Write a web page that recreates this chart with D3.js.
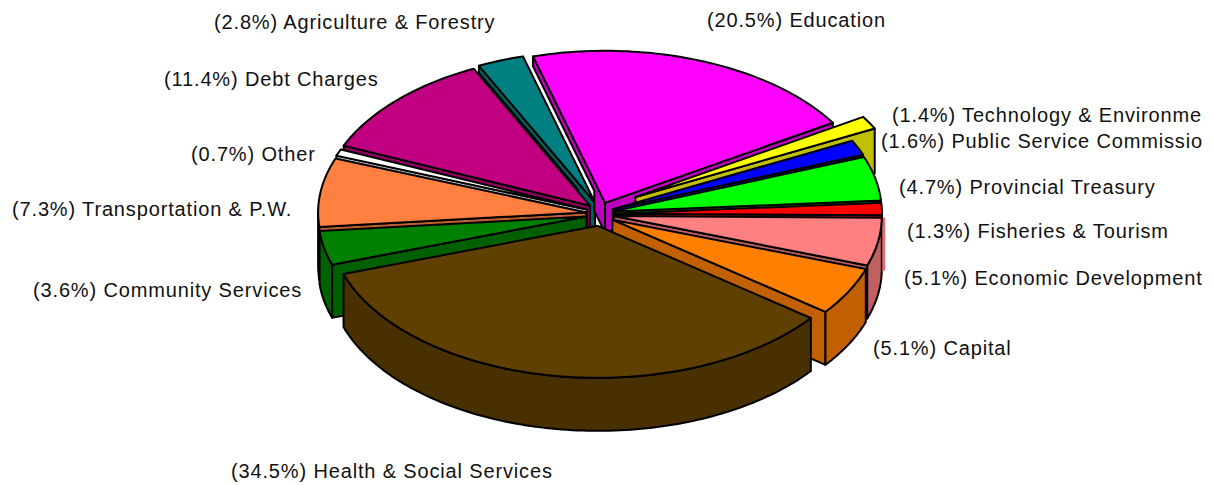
<!DOCTYPE html>
<html>
<head>
<meta charset="utf-8">
<script src="https://cdn.jsdelivr.net/npm/d3@7/dist/d3.min.js"></script>
<style>
  html, body { margin: 0; padding: 0; background: #fff; }
  svg { display: block; }
  text { font-family: "Liberation Sans", Arial, sans-serif; font-size: 20px; letter-spacing: 0.85px; fill: #111; }
</style>
</head>
<body>
<svg id="chart" width="1214" height="485"></svg>
<script>
// Budget shares, clockwise starting with Education.
const sectors = ["Education", "Technology & Environment", "Public Service Commission", "Provincial Treasury",
  "Fisheries & Tourism", "Economic Development", "Capital", "Health & Social Services", "Community Services",
  "Transportation & P.W.", "Other", "Debt Charges", "Agriculture & Forestry"];
const shares = [20.5, 1.4, 1.6, 4.7, 1.3, 5.1, 5.1, 34.5, 3.6, 7.3, 0.7, 11.4, 2.8];
const topColors = ["#ff00ff", "#ffff00", "#0000ff", "#00ff00", "#ff0000", "#ff8080", "#ff8000", "#604000",
  "#008000", "#ff8040", "#ffffff", "#c00080", "#008080"];
const wallColors = ["#c000c0", "#c0c000", "#0000c0", "#00c000", "#c00000", "#c06060", "#c06000", "#483000",
  "#006000", "#c06030", "#c0c0c0", "#900060", "#006060"];

// Label placement, in the same order as the sectors.
const labelX = [707, 892, 881, 899, 907, 904, 873, 231, 33, 12, 191, 164, 214];
const labelY = [27, 122, 148, 194, 238, 285, 355, 478, 297, 216, 161, 86, 29];

// Pie geometry.
const centre = { x: 600, y: 214 };
const radius = { x: 268, y: 152 };
const explode = { x: 14, y: 12 };
const extraExplode = { "Technology & Environment": 2.9 };
const depth = 53;
const shallowDepth = { Education: 10, "Agriculture & Forestry": 7, "Technology & Environment": 45 };
const firstAngle = -15.6 * Math.PI / 180;

const svg = d3.select("#chart");
const defs = svg.append("defs");
defs.append("clipPath").attr("id", "page").append("rect")
  .attr("x", 0).attr("y", 0).attr("width", 1203).attr("height", 485);

const pie = d3.pie().sort(null).value(i => shares[i])
  .startAngle(firstAngle).endAngle(firstAngle + 2 * Math.PI);
const slices = pie(d3.range(shares.length));

const xUnit = d3.scaleLinear().domain([-1, 1]).range([centre.x - radius.x, centre.x + radius.x]);
const yUnit = d3.scaleLinear().domain([-1, 1]).range([centre.y - radius.y, centre.y + radius.y]);
const outline = d3.line().curve(d3.curveLinearClosed);

// A point on a slice's top face: r is the fraction of the radius, drop lowers it by pixels.
function point(slice, t, r, drop) {
  const mid = (slice.startAngle + slice.endAngle) / 2;
  const k = extraExplode[sectors[slice.data]] ?? 1;
  return [
    xUnit(r * Math.sin(t)) + k * explode.x * Math.sin(mid),
    yUnit(-r * Math.cos(t)) - k * explode.y * Math.cos(mid) + drop
  ];
}

function arcPoints(slice, a0, a1, drop) {
  const steps = Math.max(2, Math.ceil((a1 - a0) / 0.02));
  return d3.range(steps + 1).map(k => point(slice, a0 + (a1 - a0) * k / steps, 1, drop));
}

// Radial side wall: shallower along the rim on rear slices, with a full column at the hub.
function radialWall(slice, t, rimDepth) {
  const pts = [point(slice, t, 0, 0), point(slice, t, 1, 0), point(slice, t, 1, rimDepth)];
  if (rimDepth < depth) {
    pts.push(point(slice, t, 0.15, rimDepth), point(slice, t, 0.15, 30), point(slice, t, 0, 30));
  } else {
    pts.push(point(slice, t, 0, depth));
  }
  return pts;
}

const chart = svg.append("g").attr("stroke", "#000").attr("stroke-width", 2).attr("stroke-linejoin", "round");

// Paint from the back of the pie to the front.
const order = slices.slice().sort((a, b) =>
  d3.descending(Math.cos((a.startAngle + a.endAngle) / 2), Math.cos((b.startAngle + b.endAngle) / 2)));

order.forEach(s => {
  const i = s.data;
  const rim = shallowDepth[sectors[i]] ?? depth;
  const g = chart.append("g");

  // The leading wall faces the viewer on the left half, the trailing wall on the right half.
  if (Math.sin(s.startAngle) < 0) {
    g.append("path").attr("fill", wallColors[i]).attr("d", outline(radialWall(s, s.startAngle, rim)));
  }
  if (Math.sin(s.endAngle) > 0) {
    g.append("path").attr("fill", wallColors[i]).attr("d", outline(radialWall(s, s.endAngle, rim)));
  }

  // Curved rim, only where it faces the viewer.
  const a0 = Math.max(s.startAngle, Math.PI / 2);
  const a1 = Math.min(s.endAngle, 3 * Math.PI / 2);
  if (a1 > a0) {
    const rimPts = arcPoints(s, a0, a1, 0).concat(arcPoints(s, a0, a1, depth).reverse());
    g.append("path").attr("fill", wallColors[i]).attr("d", outline(rimPts));
  }

  // Pale sliver where the Economic Development rim turns away at the far right.
  if (sectors[i] === "Economic Development") {
    const [x, y] = point(s, s.startAngle, 1, 0);
    g.append("line").attr("stroke", "#e07078").attr("stroke-width", 3)
      .attr("x1", x + 2).attr("x2", x + 2).attr("y1", y).attr("y2", y + depth);
  }

  const top = [point(s, 0, 0, 0)].concat(arcPoints(s, s.startAngle, s.endAngle, 0));
  g.append("path").attr("fill", topColors[i]).attr("d", outline(top));
});

// Labels state each share ahead of the sector name.
svg.append("g").attr("clip-path", "url(#page)")
  .selectAll("text").data(sectors).join("text")
  .attr("x", (d, i) => labelX[i])
  .attr("y", (d, i) => labelY[i])
  .text((d, i) => `(${shares[i].toFixed(1)}%) ${d}`);
</script>
</body>
</html>
